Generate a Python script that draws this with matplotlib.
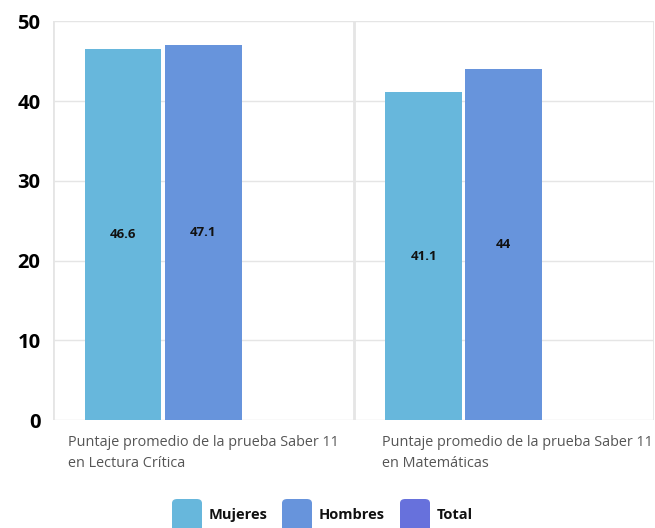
import numpy as np
import matplotlib
matplotlib.use('Agg')
import matplotlib.pyplot as plt
from matplotlib import font_manager
from matplotlib.patches import FancyBboxPatch

# elegir una familia que tenga negrita instalada
fam = 'DejaVu Sans'
for cand in ['Open Sans', 'Noto Sans', 'Lato', 'Roboto']:
    faces = [f for f in font_manager.fontManager.ttflist if f.name == cand]
    if any(f.weight in ('bold', 700, 'semibold', 600) or (isinstance(f.weight, int) and f.weight >= 600)
           for f in faces):
        fam = cand
        break
plt.rcParams['font.family'] = [fam, 'DejaVu Sans']

categories = ['Puntaje promedio de la prueba Saber 11\nen Lectura Crítica',
              'Puntaje promedio de la prueba Saber 11\nen Matemáticas']
series = ['Mujeres', 'Hombres', 'Total']
mujeres = [46.6, 41.1]
hombres = [47.1, 44]
total = [np.nan, np.nan]  # sin datos en el gráfico
colors = ['#67B7DC', '#6794DC', '#6771DC']

fig = plt.figure(figsize=(6.55, 5.28), dpi=100)
ax = fig.add_axes([53 / 655, 108 / 528, 601 / 655, 398.5 / 528])

x = np.arange(len(categories))
w = 0.8 / 3
for i, (vals, col) in enumerate(zip([mujeres, hombres, total], colors)):
    off = (i - 1) * w
    for xi, v in zip(x, vals):
        if np.isnan(v):
            continue
        ax.bar(xi + off, v, width=w - 0.012, color=col, zorder=2)
        ax.text(xi + off, v / 2, f'{v:g}', ha='center', va='center',
                fontsize=9.5, fontweight='bold', color='#111111', zorder=3)

ax.set_xlim(-0.5, 1.5)
ax.set_ylim(0, 50)
ax.set_yticks([0, 10, 20, 30, 40, 50])
ax.tick_params(axis='y', length=0, pad=9, labelsize=14.5)
for t in ax.get_yticklabels():
    t.set_fontweight('bold')
ax.set_xticks([])
for s in ax.spines.values():
    s.set_visible(False)
ax.grid(axis='y', color='#e5e5e5', linewidth=1, zorder=0)
for xb in [-0.5, 0.5, 1.5]:
    ax.axvline(xb, color='#e5e5e5', linewidth=2, zorder=0)

# etiquetas de categoría
for xl, cat in zip([-0.45, 0.596], categories):
    ax.text(xl, -1.9, cat, ha='left', va='top', fontsize=10.4,
            color='#555555', linespacing=1.55, clip_on=False)

# leyenda
leg_x = [172, 282, 400]
for lx, name, col in zip(leg_x, series, colors):
    box = FancyBboxPatch((lx / 655, -0.01), 30 / 655, 29 / 528 + 0.01,
                         boxstyle='round,pad=0,rounding_size=0.008',
                         transform=fig.transFigure, facecolor=col, edgecolor='none')
    fig.patches.append(box)
    fig.text((lx + 37) / 655, 1 - 515 / 528, name, ha='left', va='center',
             fontsize=10.5, fontweight='bold', color='#111111')

fig.savefig('out.png', dpi=100)
